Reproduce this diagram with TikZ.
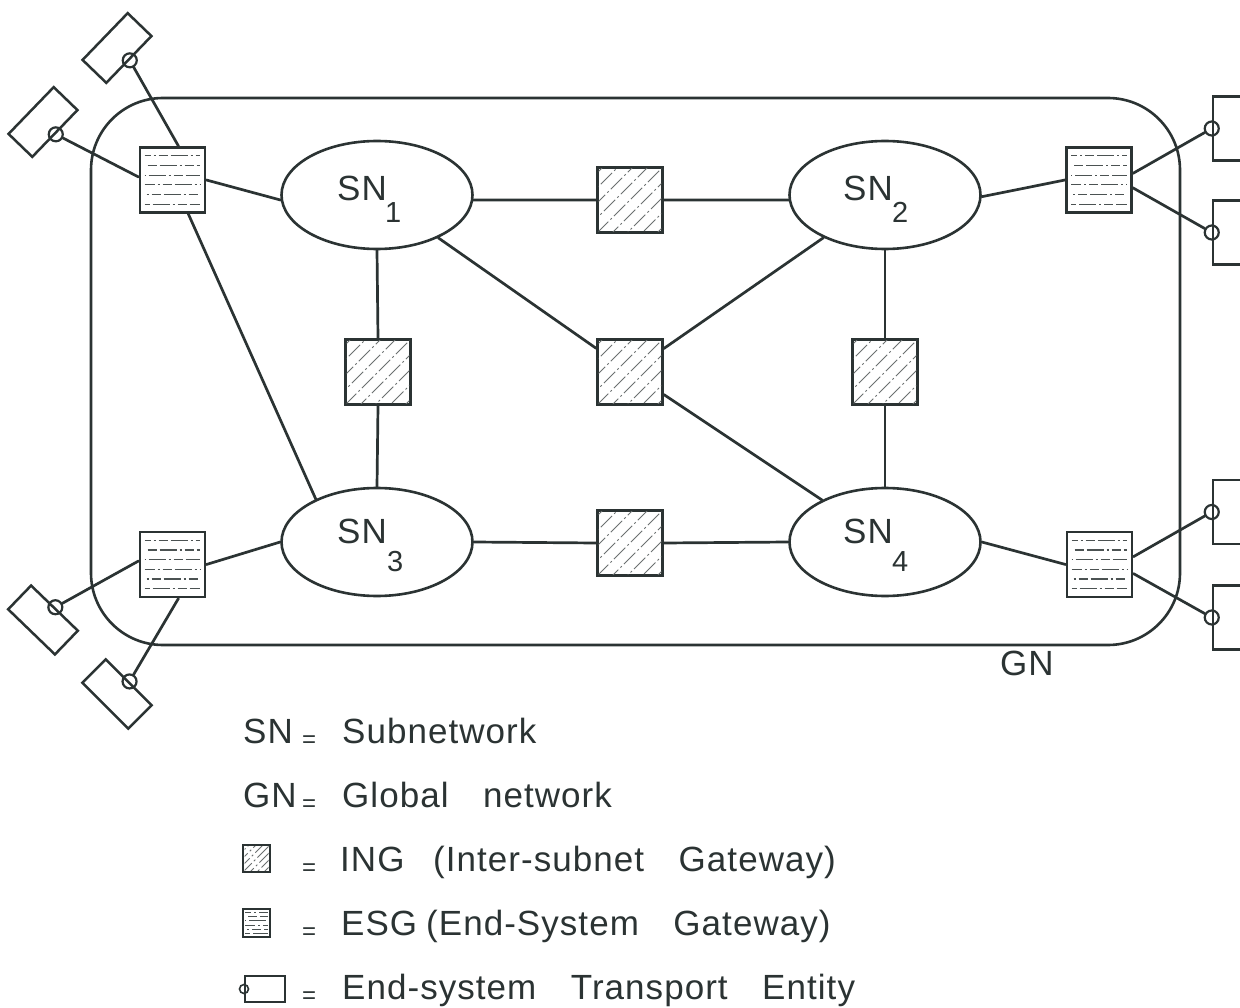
\documentclass[tikz,border=0pt]{standalone}
\usepackage{fontspec}
\setmainfont{Liberation Sans}[WordSpace=3.2,LetterSpace=3]
\usetikzlibrary{calc,shapes.geometric}

\definecolor{ink}{HTML}{2B3333}

\tikzset{
  wire/.style={draw=ink, line width=2.7pt, line cap=round},
  subnet/.style={draw=ink, ellipse, line width=2.6pt, minimum width=191pt, minimum height=108pt, inner sep=0pt},
  gatebox/.style={draw=ink, line width=2.8pt, minimum size=65pt, inner sep=0pt, fill=white},
  esrect/.style={draw=ink, line width=2.5pt, minimum width=65pt, minimum height=33pt, inner sep=0pt},
  port/.style={draw=ink, circle, line width=2.2pt, minimum size=14pt, inner sep=0pt},
  hatchline/.style={draw=ink!70, line width=1pt, dash pattern=on 16pt off 3pt on 2pt off 3pt},
  esgline/.style={draw=ink!85, line width=1.2pt, dash pattern=on 17pt off 3pt on 2pt off 3pt on 9pt off 3pt},
  lbl/.style={text=ink, font=\fontsize{35}{40}\selectfont, inner sep=0pt, anchor=base west},
  sublbl/.style={text=ink, font=\fontsize{29}{32}\selectfont, inner sep=0pt, anchor=base west},
  eqlbl/.style={text=ink, font=\fontsize{24}{26}\selectfont, inner sep=0pt, anchor=base west},
}

% diagonal hatching inside an inter-subnet gateway box
\newcommand\inghatch[2]{%
  \begin{scope}
    \clip ($(#1.south west)+(2.5,-2.5)$) rectangle ($(#1.north east)+(-2.5,2.5)$);
    \foreach \k in {-5,...,5}
      \draw[hatchline, dash phase=\k*7pt] ($(#1.center)+(\k*#2-50,50)$) -- ($(#1.center)+(\k*#2+50,-50)$);
  \end{scope}}

% horizontal rules inside an end-system gateway box
\newcommand\esgrules[2]{%
  \foreach \i in {1,...,6}
    \draw[esgline, dash phase=\i*11pt] ($(#1.north west)!\i/7!(#1.south west)+(#2,0)$) --
                   ($(#1.north east)!\i/7!(#1.south east)+(-#2,0)$);}

\begin{document}
\begin{tikzpicture}[x=1pt,y=-1pt]
\useasboundingbox (0,0) rectangle (1240,1008);
\fill[white] (0,0) rectangle (1240,1008);
\clip (0,0) rectangle (1240,1008);

% global network outline
\draw[draw=ink, line width=2.6pt, rounded corners=72pt] (91,98) rectangle (1180,645);
\node[lbl] (gnlbl) at (1000,675) {GN};

% subnetworks
\node[subnet] (sn1) at (377,195) {};
\node[subnet] (sn2) at (885,195) {};
\node[subnet] (sn3) at (377,542) {};
\node[subnet] (sn4) at (885,542) {};
\node[lbl] (sn1a) at (337,201) {SN}; \node[sublbl] (sn1b) at (385,223) {1};
\node[lbl] (sn2a) at (843,201) {SN}; \node[sublbl] (sn2b) at (892,223) {2};
\node[lbl] (sn3a) at (337,543) {SN}; \node[sublbl] (sn3b) at (387,571) {3};
\node[lbl] (sn4a) at (843,543) {SN}; \node[sublbl] (sn4b) at (892,571) {4};

% inter-subnet gateways
\node[gatebox] (ingT) at (630,200) {};
\node[gatebox] (ingL) at (378,372) {};
\node[gatebox] (ingC) at (630,372) {};
\node[gatebox] (ingR) at (885,372) {};
\node[gatebox] (ingB) at (630,543) {};
\foreach \n in {ingT,ingL,ingC,ingR,ingB} { \inghatch{\n}{15} }

% end-system gateways
\node[gatebox] (esg1) at (172.5,180) {};
\node[gatebox] (esg2) at (172.5,564.5) {};
\node[gatebox] (esg3) at (1099,180) {};
\node[gatebox] (esg4) at (1099.5,564.5) {};
\foreach \n in {esg1,esg2,esg3,esg4} { \esgrules{\n}{6} }

% end-system transport entities
\node[esrect, rotate=46]  (esA) at (117,48) {};
\node[esrect, rotate=46]  (esB) at (43,122) {};
\node[esrect, rotate=-44] (esC) at (43,620) {};
\node[esrect, rotate=-45] (esD) at (117,694) {};
\node[esrect, minimum width=33pt, minimum height=64pt] (esE) at (1229.5,128.5) {};
\node[esrect, minimum width=33pt, minimum height=64pt] (esF) at (1229.5,232.5) {};
\node[esrect, minimum width=33pt, minimum height=64pt] (esG) at (1229.5,512) {};
\node[esrect, minimum width=33pt, minimum height=64pt] (esH) at (1229.5,617.5) {};
\node[port] (pA) at (esA.south) {};
\node[port] (pB) at (esB.south) {};
\node[port] (pC) at (esC.north) {};
\node[port] (pD) at (esD.north) {};
\node[port] (pE) at (esE.west) {};
\node[port] (pF) at (esF.west) {};
\node[port] (pG) at (esG.west) {};
\node[port] (pH) at (esH.west) {};

% links
\draw[wire] (pA) -- (esg1.80);
\draw[wire] (pB) -- (esg1.175);
\draw[wire] (esg1.east) -- (sn1.183);
\draw[wire] (esg1.-65) -- (sn3.145);
\draw[wire] (sn1.-3) -- (ingT.west);
\draw[wire] (ingT.east) -- (sn2.183);
\draw[wire] (sn2.-1) -- (esg3.west);
\draw[wire] (esg3.11) -- (pE);
\draw[wire] (esg3.-13) -- (pF);
\draw[wire] (sn1.south) -- (ingL.north);
\draw[wire] (ingL.south) -- (sn3.north);
\draw[wire] (sn2.south) -- (ingR.north);
\draw[wire] (ingR.south) -- (sn4.north);
\draw[wire] (sn1) -- (ingC);
\draw[wire] (ingC) -- (sn4);
\draw[wire] (sn2) -- (ingC);
\draw[wire] (sn3.east) -- (ingB.west);
\draw[wire] (ingB.east) -- (sn4.west);
\draw[wire] (sn3.west) -- (esg2.east);
\draw[wire] (pC) -- (esg2.174);
\draw[wire] (pD) -- (esg2.-80);
\draw[wire] (sn4.east) -- (esg4.west);
\draw[wire] (esg4.13) -- (pG);
\draw[wire] (esg4.-15) -- (pH);

% legend
\node[lbl] (k1) at (243,743) {SN};
\node[eqlbl] (e1) at (302,743) {\raisebox{-4pt}{=}};
\node[lbl] (t1) at (342,743) {Subnetwork};

\node[lbl] (k2) at (243,807) {GN};
\node[eqlbl] (e2) at (302,807) {\raisebox{-4pt}{=}};
\node[lbl] (t2) at (342,807) {Global network};

\node[draw=ink, line width=2pt, minimum size=27pt, inner sep=0pt, fill=white] (k3) at (256.5,858.5) {};
\inghatch{k3}{7}
\node[eqlbl] (e3) at (302,871) {\raisebox{-4pt}{=}};
\node[lbl] (t3a) at (340,871) {ING};
\node[lbl] (t3b) at (433,871) {(Inter-subnet Gateway)};

\node[draw=ink, line width=2pt, minimum width=27pt, minimum height=28pt, inner sep=0pt, fill=white] (k4) at (256.5,923) {};
\esgrules{k4}{3}
\node[eqlbl] (e4) at (302,935) {\raisebox{-4pt}{=}};
\node[lbl] (t4a) at (341,935) {ESG};
\node[lbl] (t4b) at (426,935) {(End-System Gateway)};

\node[draw=ink, line width=2pt, minimum width=40pt, minimum height=26pt, inner sep=0pt] (k5) at (265,989) {};
\node[draw=ink, circle, line width=1.6pt, minimum size=9pt, inner sep=0pt] (k5p) at (k5.west) {};
\node[eqlbl] (e5) at (302,999) {\raisebox{-4pt}{=}};
\node[lbl] (t5) at (342,999) {End-system Transport Entity};
\end{tikzpicture}
\end{document}
